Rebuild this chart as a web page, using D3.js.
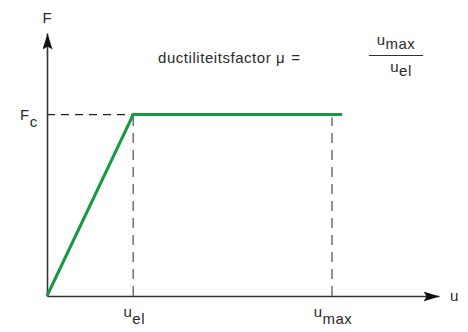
<!DOCTYPE html>
<html>
<head>
<meta charset="utf-8">
<script src="https://cdn.jsdelivr.net/npm/d3@7/dist/d3.min.js"></script>
<style>
  html, body { margin: 0; padding: 0; background: #fff; }
  svg { display: block; }
  text { font-family: "Liberation Sans", Arial, sans-serif; fill: #2a2a2a; }
</style>
</head>
<body>
<svg id="chart" width="468" height="332"></svg>
<script>
// Idealised elastic–perfectly-plastic force/displacement diagram
const uEl = 2.2;          // elastic limit displacement
const uMax = 7.27;        // ultimate displacement
const uEnd = 7.53;        // end of the plateau as drawn
const Fc = 6.9;           // plateau force
const curveU = [0, uEl, uEnd];
const curveF = [0, Fc, Fc];
const xTicks = [{ v: uEl, base: "u", sub: "el" }, { v: uMax, base: "u", sub: "max" }];

const svg = d3.select("#chart");
const x = d3.scaleLinear().domain([0, 10]).range([47, 439]);
const y = d3.scaleLinear().domain([0, 10]).range([296, 33]);

const defs = svg.append("defs");
defs.append("marker")
  .attr("id", "arrow")
  .attr("viewBox", "0 0 16 10")
  .attr("refX", 16).attr("refY", 5)
  .attr("markerWidth", 16).attr("markerHeight", 10)
  .attr("markerUnits", "userSpaceOnUse")
  .attr("orient", "auto")
  .append("path").attr("d", "M0,0 L16,5 L0,10 L3,5 Z").attr("fill", "#111");

// Axes (domain line only) with arrowheads
const xAxis = svg.append("g").attr("transform", `translate(0,${y(0)})`)
  .call(d3.axisBottom(x).tickValues([]).tickSizeOuter(0));
const yAxis = svg.append("g").attr("transform", `translate(${x(0)},0)`)
  .call(d3.axisLeft(y).tickValues([]).tickSizeOuter(0));
[xAxis, yAxis].forEach(g => g.select(".domain")
  .attr("stroke", "#333").attr("stroke-width", 1.6)
  .attr("marker-end", "url(#arrow)"));

// Reference dashes
svg.append("line")
  .attr("x1", x(0)).attr("x2", x(uEl)).attr("y1", y(Fc)).attr("y2", y(Fc))
  .attr("stroke", "#222").attr("stroke-width", 1.2).attr("stroke-dasharray", "8,6");
svg.selectAll("line.vref").data(xTicks).join("line")
  .attr("class", "vref")
  .attr("x1", d => x(d.v)).attr("x2", d => x(d.v))
  .attr("y1", y(0)).attr("y2", y(Fc) + 3)
  .attr("stroke", "#777").attr("stroke-width", 1.6).attr("stroke-dasharray", "10,7");

// Force–displacement curve
const pts = curveU.map((u, i) => [x(u), y(curveF[i])]);
svg.append("path").datum(pts)
  .attr("d", d3.line())
  .attr("fill", "none").attr("stroke", "#159a44").attr("stroke-width", 3)
  .attr("stroke-linejoin", "miter");

// Labels with subscripts
function subLabel(g, px, py, base, sub, size, shift, anchor) {
  const t = g.append("text").attr("x", px).attr("y", py)
    .attr("text-anchor", anchor || "start")
    .style("font-size", size + "px").style("letter-spacing", "0.5px");
  t.append("tspan").text(base);
  t.append("tspan").attr("dy", shift).text(sub);
  return t;
}
xTicks.forEach(d => {
  subLabel(svg, x(d.v) + 1, 317, d.base, d.sub, 15, 7, "middle");
});
svg.append("text").attr("x", x(10) + 11).attr("y", 301).style("font-size", "15px").text("u");
svg.append("text").attr("x", x(0)).attr("y", 23).attr("text-anchor", "middle").style("font-size", "15px").text("F");
subLabel(svg, 20, 120, "F", "c", 15, 7);

// Ductility factor
const title = svg.append("text").attr("x", 158).attr("y", 63)
  .style("font-size", "15px").style("letter-spacing", "0.55px");
title.append("tspan").text("ductiliteitsfactor μ");
title.append("tspan").attr("dx", 6).text("=");
subLabel(svg, 396, 45, "u", "max", 15, 4, "middle");
svg.append("line").attr("x1", 369).attr("x2", 423).attr("y1", 55.5).attr("y2", 55.5)
  .attr("stroke", "#333").attr("stroke-width", 1.2);
subLabel(svg, 401, 72, "u", "el", 15, 4, "middle");
</script>
</body>
</html>
